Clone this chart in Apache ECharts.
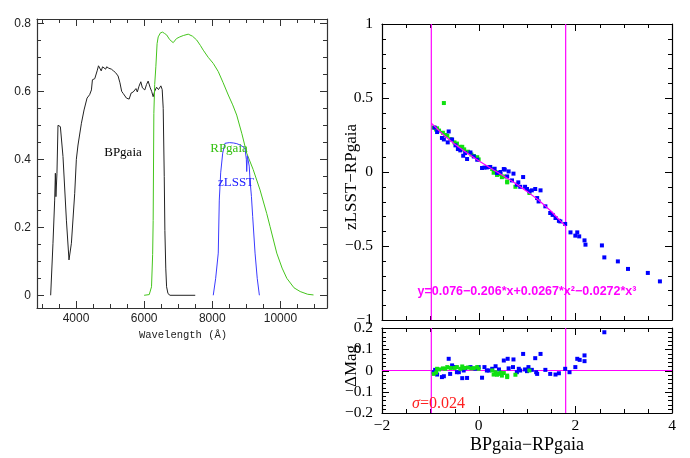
<!DOCTYPE html>
<html><head><meta charset="utf-8">
<script src="https://cdn.jsdelivr.net/npm/echarts@6/dist/echarts.min.js"></script>
<style>html,body{margin:0;padding:0;background:#fff}#c{width:690px;height:458px}</style>
</head><body><div id="c"></div>
<script>
// ---------- Left panel: filter throughputs [wavelength (Å), throughput] ----------
const bpCurve = [[3256,0],[3324,0.153],[3374,0.28],[3394,0.359],[3410,0.29],[3424,0.285],[3441,0.359],[3471,0.50],[3500,0.505],[3541,0.496],[3618,0.408],[3718,0.221],[3794,0.104],[3865,0.153],[3962,0.30],[4010,0.40],[4059,0.442],[4109,0.447],[4159,0.506],[4236,0.545],[4324,0.58],[4400,0.59],[4453,0.604],[4482,0.634],[4550,0.637],[4620,0.66],[4660,0.675],[4700,0.67],[4740,0.66],[4780,0.672],[4830,0.676],[4870,0.665],[4900,0.672],[4960,0.668],[5040,0.665],[5100,0.66],[5160,0.655],[5235,0.645],[5290,0.625],[5340,0.6],[5382,0.594],[5430,0.59],[5480,0.58],[5559,0.577],[5620,0.595],[5680,0.598],[5726,0.602],[5760,0.608],[5800,0.598],[5850,0.615],[5902,0.628],[5950,0.61],[6020,0.604],[6070,0.62],[6118,0.63],[6180,0.61],[6220,0.6],[6265,0.584],[6310,0.6],[6365,0.612],[6420,0.605],[6491,0.616],[6530,0.605],[6560,0.55],[6590,0.35],[6609,0.19],[6635,0.08],[6659,0.025],[6700,0.005],[6760,0],[7500,0]];
const rpCurve = [[6000,0],[6150,0.002],[6217,0.025],[6250,0.12],[6265,0.22],[6285,0.535],[6310,0.62],[6344,0.672],[6380,0.74],[6413,0.76],[6480,0.772],[6541,0.774],[6600,0.77],[6659,0.766],[6750,0.752],[6853,0.743],[6950,0.755],[7049,0.76],[7150,0.764],[7294,0.768],[7420,0.762],[7541,0.751],[7650,0.735],[7735,0.721],[7880,0.7],[8029,0.682],[8176,0.658],[8320,0.625],[8470,0.589],[8600,0.56],[8717,0.53],[8870,0.475],[9011,0.418],[9200,0.37],[9402,0.31],[9600,0.24],[9697,0.202],[9893,0.124],[10050,0.08],[10188,0.05],[10400,0.022],[10580,0.011],[10800,0.003],[10972,0.001]];
const zCurve = [[8029,0],[8100,0.05],[8176,0.124],[8206,0.28],[8247,0.36],[8306,0.418],[8373,0.447],[8500,0.449],[8618,0.448],[8720,0.446],[8814,0.442],[8900,0.437],[8961,0.432],[8990,0.43],[9000,0.40],[9011,0.364],[9030,0.41],[9060,0.408],[9085,0.38],[9109,0.339],[9150,0.29],[9187,0.231],[9256,0.124],[9320,0.05],[9383,0]];
const leftXLabels = [4000,6000,8000,10000];
const leftYLabels = [0,0.2,0.4,0.6,0.8];

// ---------- Right panel: colour relation [BP-RP, zLSST-RP] ----------
const blueTop = [[-0.91,0.30],[-0.86,0.27],[-0.76,0.23],[-0.72,0.22],[-0.62,0.274],[-0.64,0.20],[-0.55,0.22],[-0.48,0.18],[-0.43,0.155],[-0.38,0.146],[-0.32,0.11],[-0.24,0.088],[-0.28,0.128],[-0.17,0.132],[-0.10,0.105],[-0.03,0.083],[0.07,0.027],[0.12,0.03],[0.17,0.031],[0.24,0.034],[0.33,0.022],[0.38,-0.007],[0.45,0.0],[0.52,0.02],[0.54,0.016],[0.59,-0.03],[0.62,0.004],[0.69,-0.057],[0.72,-0.011],[0.79,-0.086],[0.82,-0.07],[0.86,-0.10],[0.92,-0.034],[0.96,-0.1],[1.00,-0.115],[1.05,-0.13],[1.10,-0.124],[1.17,-0.115],[1.21,-0.176],[1.24,-0.199],[1.28,-0.124],[1.38,-0.232],[1.48,-0.277],[1.53,-0.29],[1.59,-0.311],[1.66,-0.33],[1.69,-0.334],[1.79,-0.351],[1.90,-0.408],[2.00,-0.43],[2.04,-0.408],[2.08,-0.435],[2.19,-0.462],[2.21,-0.491],[2.55,-0.496],[2.60,-0.577],[2.88,-0.604],[3.09,-0.655],[3.50,-0.682],[3.75,-0.739]];
const greenTop = [[-0.93,0.30],[-0.88,0.287],[-0.86,0.295],[-0.82,0.28],[-0.74,0.265],[-0.69,0.25],[-0.65,0.245],[-0.58,0.222],[-0.5,0.20],[-0.45,0.192],[-0.38,0.17],[-0.34,0.17],[-0.3,0.153],[-0.22,0.137],[-0.15,0.118],[-0.10,0.108],[-0.03,0.1],[0.0,0.085],[0.28,0.02],[0.31,-0.005],[0.35,0.0],[0.38,-0.02],[0.41,-0.012],[0.45,-0.015],[0.48,-0.035],[0.52,-0.03],[0.59,-0.07],[0.59,-0.064],[0.76,-0.1],[1.05,-0.142],[-0.72,0.466]];
const fitX = [-0.98,-0.75,-0.5,-0.25,0,0.25,0.5,0.75,1.0,1.25,1.5,1.8];
const fitY = [0.330,0.257,0.189,0.130,0.076,0.026,-0.024,-0.075,-0.131,-0.193,-0.265,-0.367];
const cutLimits = [-0.98, 1.8];
const fitLabel = 'y=0.076\u22120.206*x+0.0267*x\u00b2\u22120.0272*x\u00b3';

// ---------- Residual panel [BP-RP, ΔMag] ----------
const blueRes = [[-0.93,-0.008],[-0.90,0.003],[-0.86,-0.019],[-0.76,-0.031],[-0.72,-0.027],[-0.62,0.055],[-0.59,-0.016],[-0.55,0.024],[-0.52,0.016],[-0.48,0.016],[-0.45,-0.008],[-0.41,-0.008],[-0.34,-0.036],[-0.31,0],[-0.28,0.011],[-0.24,-0.035],[-0.17,0.016],[-0.07,0.008],[0.0,0.016],[0.07,-0.034],[0.12,0.016],[0.17,0],[0.21,0],[0.28,0.008],[0.35,0.02],[0.42,0.005],[0.52,0.047],[0.60,0.055],[0.62,0.01],[0.71,0.016],[0.72,0.052],[0.79,-0.008],[0.83,0.008],[0.86,0],[0.92,0.078],[0.96,0.005],[1.00,-0.003],[1.03,0.016],[1.10,0.003],[1.17,0.058],[1.19,-0.008],[1.21,-0.016],[1.28,0.078],[1.38,0.003],[1.48,-0.016],[1.59,-0.019],[1.66,-0.013],[1.79,0.008],[1.88,-0.008],[2.00,0.016],[2.04,0.055],[2.09,0.05],[2.19,0.071],[2.19,0.044],[2.60,0.18]];
const greenRes = [[-0.93,-0.016],[-0.88,-0.01],[-0.86,0.008],[-0.82,0.005],[-0.74,0.01],[-0.69,0.008],[-0.65,0.016],[-0.58,0.012],[-0.5,0.012],[-0.45,0.016],[-0.38,0.008],[-0.34,0.019],[-0.3,0.012],[-0.22,0.014],[-0.15,0.01],[-0.10,0.011],[-0.03,0.016],[0.0,0.008],[0.28,0],[0.31,-0.019],[0.35,-0.008],[0.38,-0.02],[0.41,-0.016],[0.45,-0.01],[0.48,-0.024],[0.52,-0.012],[0.59,-0.031],[0.59,-0.024],[0.76,-0.02],[1.05,0.0]];
const residualZero = 0;
const sigmaValue = '0.024';

// ---------- tick positions ----------
function range(a, b, s){ const r=[]; for(let v=a; v<=b+1e-9; v+=s) r.push(+v.toFixed(4)); return r; }
const leftXMajor = leftXLabels, leftXMinor = range(3000, 11000, 500);
const leftYMajor = leftYLabels, leftYMinor = range(0, 0.8, 0.05);
const rightXMajor = [-2,0,2,4], rightXMinor = range(-2, 4, 0.5);
const topYMajor = [-1,-0.5,0,0.5,1], topYMinor = range(-1, 1, 0.1);
const botYMajor = [-0.2,-0.1,0,0.1,0.2], botYMinor = range(-0.2, 0.2, 0.02);

// ---------- layout / styling ----------
const L = {left:37, top:19, width:290, height:289};
const RT = {left:382, top:24, width:290, height:296};
const RB = {left:382, top:328, width:290, height:85};
const LX = [2855, 11368], LY = [-0.0374, 0.8126];
const RX = [-2, 4], RTY = [-1, 1], RBY = [-0.2, 0.2];
const serif = '"Liberation Serif", "DejaVu Serif", serif';
const sans = '"Liberation Sans", Arial, sans-serif';
const fmt = v => (v < 0 ? '\u2212' : '') + Math.abs(+(+v).toFixed(3));
const magenta = '#ff00ff';

function axis(grid, pos, ext, frameColor, label){
  return {gridIndex:grid, type:'value', position:pos, min:ext[0], max:ext[1], splitLine:{show:false},
    axisLine:{show:true, onZero:false, lineStyle:{color:frameColor, width:1.2}},
    axisTick:{show:false}, minorTick:{show:false},
    axisLabel: label ? label : {show:false}};
}
const leftLabel = (vals, margin) => ({show:true, customValues:vals, margin, fontFamily:sans, fontSize:12, color:'#222',
  formatter: v => String(+(+v).toFixed(3))});
const rightLabel = (vals, margin) => ({show:true, customValues:vals, margin, fontFamily:serif, fontSize:15.5, color:'#000', formatter:fmt});

// two axes per grid: main one at index 2*g
const xAxis = [
  axis(0,'bottom',LX,'#333',leftLabel(leftXLabels,5)), axis(0,'top',LX,'#333'),
  axis(1,'bottom',RX,'#000'), axis(1,'top',RX,'#000'),
  axis(2,'bottom',RX,'#000',rightLabel(rightXMajor,5)), axis(2,'top',RX,'#000')
];
const yAxis = [
  axis(0,'left',LY,'#333',leftLabel(leftYLabels,6)), axis(0,'right',LY,'#333'),
  axis(1,'left',RTY,'#000',rightLabel(topYMajor,9)), axis(1,'right',RTY,'#000'),
  axis(2,'left',RBY,'#000',rightLabel(botYMajor,9)), axis(2,'right',RBY,'#000')
];
const AX = g => 2 * g;

// frame ticks, placed through the axes' own scales
function tickSeries(g, xMaj, xMin, yMaj, yMin, xExt, yExt, color){
  const notMajor = (maj) => (v) => !maj.some(m => Math.abs(m - v) < 1e-6);
  const data = [];
  xMaj.forEach(v => data.push([v, yExt[0], 7, 0]));
  xMin.filter(notMajor(xMaj)).forEach(v => data.push([v, yExt[0], 4, 0]));
  yMaj.forEach(v => data.push([xExt[0], v, 7, 1]));
  yMin.filter(notMajor(yMaj)).forEach(v => data.push([xExt[0], v, 4, 1]));
  return {type:'custom', xAxisIndex:AX(g), yAxisIndex:AX(g), silent:true, clip:false, z:1,
    encode:{x:0, y:1}, data,
    renderItem(params, api){
      const cs = params.coordSys;
      const p = api.coord([api.value(0), api.value(1)]);
      const len = api.value(2), dim = api.value(3);
      const style = {stroke:color, lineWidth:1, fill:null};
      if (dim === 0){
        const x = Math.round(p[0]) + 0.5, yb = cs.y + cs.height, yt = cs.y;
        return {type:'group', children:[
          {type:'line', shape:{x1:x, y1:yb, x2:x, y2:yb - len}, style},
          {type:'line', shape:{x1:x, y1:yt, x2:x, y2:yt + len}, style}]};
      }
      const y = Math.round(p[1]) + 0.5, xl = cs.x, xr = cs.x + cs.width;
      return {type:'group', children:[
        {type:'line', shape:{x1:xl, y1:y, x2:xl + len, y2:y}, style},
        {type:'line', shape:{x1:xr, y1:y, x2:xr - len, y2:y}, style}]};
    }};
}

const lineS = (data, color, g, w) => ({type:'line', data, xAxisIndex:AX(g), yAxisIndex:AX(g), symbol:'none', showSymbol:false,
  lineStyle:{color, width:w||1}, itemStyle:{color}, z:3});
const scat = (data, color, g) => ({type:'scatter', data, xAxisIndex:AX(g), yAxisIndex:AX(g), symbol:'rect',
  symbolSize:4, itemStyle:{color, opacity:1}, z:4});
const vline = (x, ext, g) => lineS([[x, ext[0]],[x, ext[1]]], magenta, g, 1.2);

const series = [
  tickSeries(0, leftXMajor, leftXMinor, leftYMajor, leftYMinor, LX, LY, '#333'),
  tickSeries(1, rightXMajor, rightXMinor, topYMajor, topYMinor, RX, RTY, '#000'),
  tickSeries(2, rightXMajor, rightXMinor, botYMajor, botYMinor, RX, RBY, '#000'),
  lineS(bpCurve, '#222', 0),
  lineS(rpCurve, '#44c41c', 0),
  lineS(zCurve, '#3a3aff', 0),
  vline(cutLimits[0], RTY, 1), vline(cutLimits[1], RTY, 1),
  scat(greenTop, '#10e010', 1),
  scat(blueTop, '#0000ff', 1),
  Object.assign(lineS(fitX.map((x,i)=>[x,fitY[i]]), magenta, 1, 1.2), {z:5}),
  vline(cutLimits[0], RBY, 2), vline(cutLimits[1], RBY, 2),
  lineS([[RX[0], residualZero],[RX[1], residualZero]], magenta, 2, 1.2),
  scat(blueRes, '#0000ff', 2),
  scat(greenRes, '#10e010', 2)
];

const txt = (text, x, y, font, fill, rot) => ({type:'text', x, y, rotation:rot||0, z:10,
  style:{text, font, fill, align:'center', verticalAlign:'middle'}});

const graphic = [
  txt('BPgaia', 123, 153, '13px ' + serif, '#000'),
  txt('RPgaia', 229, 149, '13px ' + serif, '#33c010'),
  txt('zLSST', 236, 183, '13px ' + serif, '#2020ff'),
  txt('Wavelength (\u00c5)', 183, 335, '10.5px "Liberation Mono", monospace', '#222'),
  txt('zLSST\u2212RPgaia', 352, 177, '17px ' + serif, '#000', Math.PI/2),
  txt('\u0394Mag', 352, 366, '17px ' + serif, '#000', Math.PI/2),
  txt('BPgaia\u2212RPgaia', 527, 445, '18px ' + serif, '#000'),
  txt(fitLabel, 527, 292, 'bold 12.5px ' + sans, magenta),
  {type:'text', x:412, y:404, z:10, style:{text:'{s|\u03c3}=' + sigmaValue, font:'16px ' + serif, fill:'#ff2020',
    align:'left', verticalAlign:'middle',
    rich:{s:{fontFamily:serif, fontSize:16, fontStyle:'italic', color:'#ff2020'}}}}
];

const chart = echarts.init(document.getElementById('c'));
chart.setOption({
  animation:false,
  grid:[Object.assign({}, L), Object.assign({}, RT), Object.assign({}, RB)],
  xAxis, yAxis, series, graphic
});
</script></body></html>
